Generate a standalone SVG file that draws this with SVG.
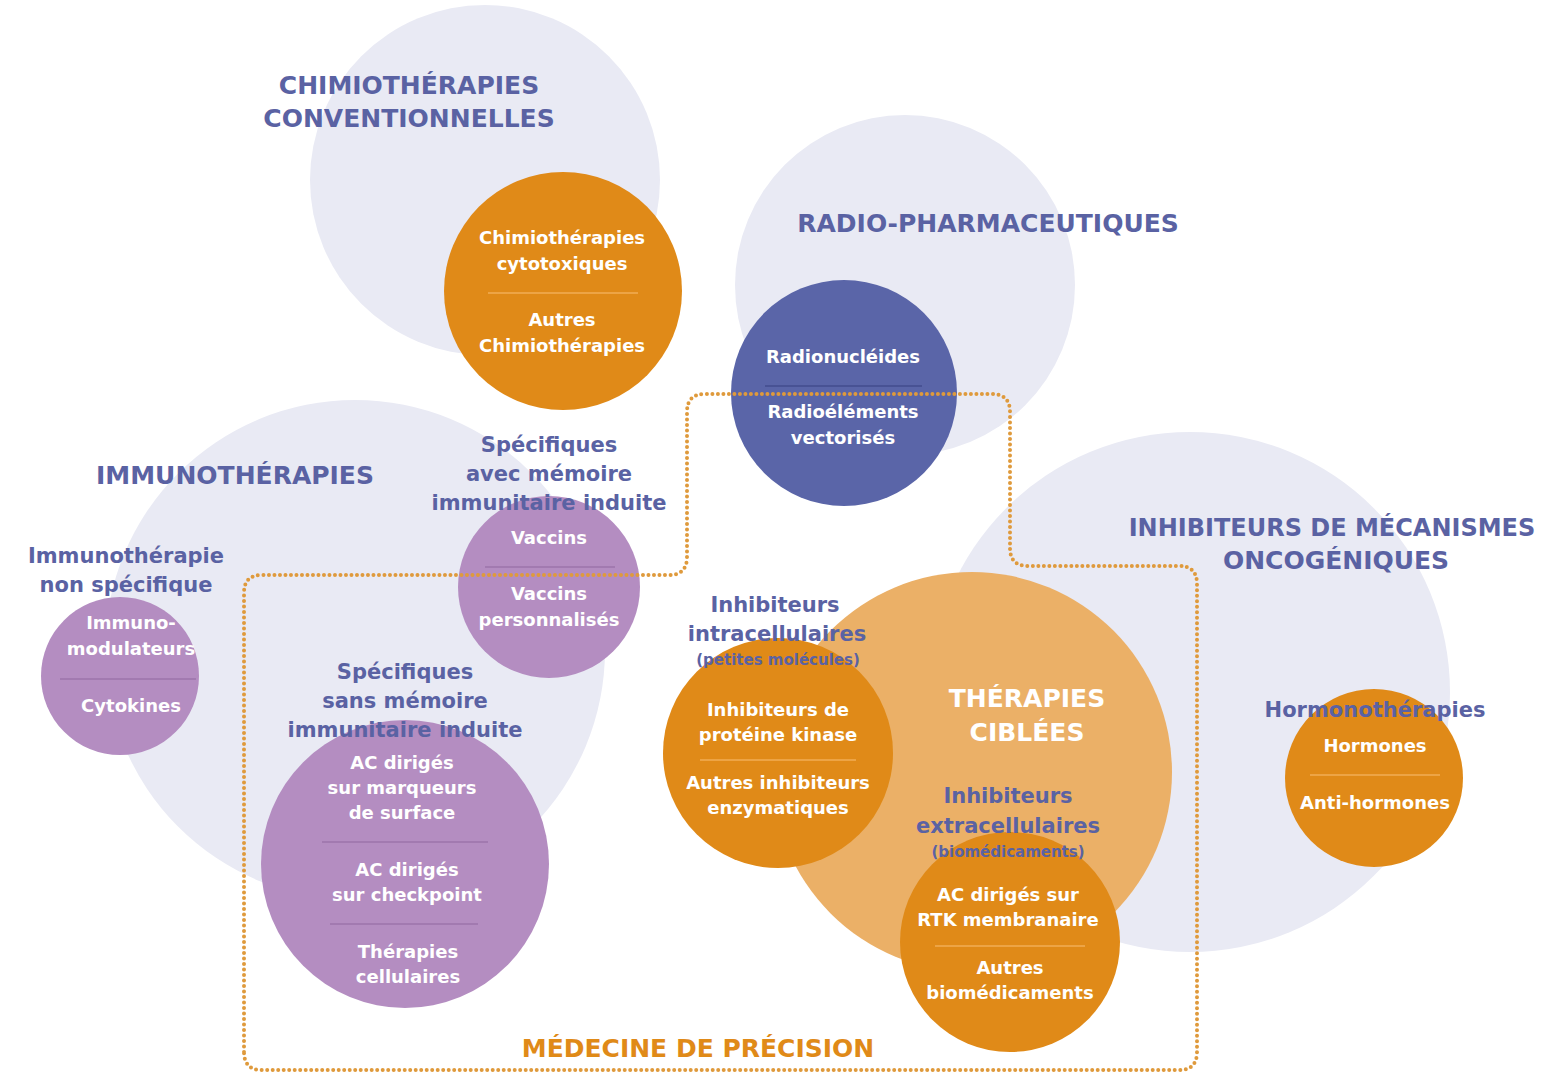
<svg xmlns="http://www.w3.org/2000/svg" width="1542" height="1074" viewBox="0 0 1542 1074">
<style>
text{font-family:"DejaVu Sans","Liberation Sans",sans-serif;font-weight:bold;text-anchor:middle}
.pale{fill:#e9eaf4}
.or{fill:#e08a18}
.lor{fill:#ebb067}
.pu{fill:#b48dc1}
.bl{fill:#5a65a8}
.ttl{font-size:25px;fill:#5a62a3}
.sub{font-size:21px;fill:#5a62a3}
.sm{font-size:15px;fill:#5a62a3}
.wh{font-size:18px;fill:#ffffff}
.wt{font-size:25px;fill:#ffffff}
.ot{font-size:25px;fill:#e08a18}
.so{stroke:#f2ad55;stroke-width:1.5}
.sp{stroke:#9c74aa;stroke-width:1.5}
.sb{stroke:#434d8e;stroke-width:1.5}
.dots{fill:none;stroke:#df9a3c;stroke-width:4;stroke-linecap:round;stroke-dasharray:0 5.5}
</style>
<rect width="1542" height="1074" fill="#ffffff"/>
<g id="backgrounds">
<circle class="pale" cx="485" cy="180" r="175"/>
<circle class="pale" cx="905" cy="285" r="170"/>
<circle class="pale" cx="355" cy="650" r="250"/>
<circle class="pale" cx="1190" cy="692" r="260"/>
</g>
<g id="chimio-title">
<text class="ttl" x="409" y="94">CHIMIOTHÉRAPIES</text>
<text class="ttl" x="409" y="127">CONVENTIONNELLES</text>
</g>
<g id="radio-title"><text class="ttl" x="988" y="232">RADIO-PHARMACEUTIQUES</text></g>
<g id="immuno-title"><text class="ttl" x="235" y="484">IMMUNOTHÉRAPIES</text></g>
<g id="inhib-title">
<text class="ttl" x="1332" y="536" style="font-size:24px">INHIBITEURS DE MÉCANISMES</text>
<text class="ttl" x="1336" y="569">ONCOGÉNIQUES</text>
</g>
<g id="chimio">
<circle class="or" cx="563" cy="291" r="119"/>
<line class="so" x1="488" y1="293" x2="638" y2="293"/>
<text class="wh" x="562" y="244">Chimiothérapies</text>
<text class="wh" x="562" y="270">cytotoxiques</text>
<text class="wh" x="562" y="326">Autres</text>
<text class="wh" x="562" y="352">Chimiothérapies</text>
</g>
<g id="radionucleides">
<circle class="bl" cx="844" cy="393" r="113"/>
<line class="sb" x1="765" y1="386" x2="922" y2="386"/>
<text class="wh" x="843" y="363">Radionucléides</text>
<text class="wh" x="843" y="418">Radioéléments</text>
<text class="wh" x="843" y="444">vectorisés</text>
</g>
<g id="therapies-ciblees">
<circle class="lor" cx="972" cy="772" r="200"/>
<text class="wt" x="1027" y="707">THÉRAPIES</text>
<text class="wt" x="1027" y="741">CIBLÉES</text>
</g>
<g id="vaccins">
<circle class="pu" cx="549" cy="587" r="91"/>
<line class="sp" x1="485" y1="567" x2="615" y2="567"/>
<text class="wh" x="549" y="544">Vaccins</text>
<text class="wh" x="549" y="600">Vaccins</text>
<text class="wh" x="549" y="626">personnalisés</text>
</g>
<g id="specifiques-avec">
<text class="sub" x="549" y="452">Spécifiques</text>
<text class="sub" x="549" y="481">avec mémoire</text>
<text class="sub" x="549" y="510">immunitaire induite</text>
</g>
<g id="immuno-non-specifique">
<circle class="pu" cx="120" cy="676" r="79"/>
<line class="sp" x1="60" y1="679" x2="196" y2="679"/>
<text class="wh" x="131" y="629">Immuno-</text>
<text class="wh" x="131" y="655">modulateurs</text>
<text class="wh" x="131" y="712">Cytokines</text>
<text class="sub" x="126" y="563">Immunothérapie</text>
<text class="sub" x="126" y="592">non spécifique</text>
</g>
<g id="specifiques-sans">
<circle class="pu" cx="405" cy="864" r="144"/>
<line class="sp" x1="322" y1="842" x2="488" y2="842"/>
<line class="sp" x1="330" y1="924" x2="478" y2="924"/>
<text class="wh" x="402" y="769">AC dirigés</text>
<text class="wh" x="402" y="794">sur marqueurs</text>
<text class="wh" x="402" y="819">de surface</text>
<text class="wh" x="407" y="876">AC dirigés</text>
<text class="wh" x="407" y="901">sur checkpoint</text>
<text class="wh" x="408" y="958">Thérapies</text>
<text class="wh" x="408" y="983">cellulaires</text>
<text class="sub" x="405" y="679">Spécifiques</text>
<text class="sub" x="405" y="708">sans mémoire</text>
<text class="sub" x="405" y="737">immunitaire induite</text>
</g>
<g id="inhib-intra">
<circle class="or" cx="778" cy="753" r="115"/>
<line class="so" x1="700" y1="760" x2="856" y2="760"/>
<text class="wh" x="778" y="716">Inhibiteurs de</text>
<text class="wh" x="778" y="741">protéine kinase</text>
<text class="wh" x="778" y="789">Autres inhibiteurs</text>
<text class="wh" x="778" y="814">enzymatiques</text>
<text class="sub" x="775" y="612">Inhibiteurs</text>
<text class="sub" x="777" y="641">intracellulaires</text>
<text class="sm" x="778" y="665">(petites molécules)</text>
</g>
<g id="inhib-extra">
<circle class="or" cx="1010" cy="942" r="110"/>
<line class="so" x1="935" y1="946" x2="1085" y2="946"/>
<text class="wh" x="1008" y="901">AC dirigés sur</text>
<text class="wh" x="1008" y="926">RTK membranaire</text>
<text class="wh" x="1010" y="974">Autres</text>
<text class="wh" x="1010" y="999">biomédicaments</text>
<text class="sub" x="1008" y="803">Inhibiteurs</text>
<text class="sub" x="1008" y="833">extracellulaires</text>
<text class="sm" x="1008" y="857">(biomédicaments)</text>
</g>
<g id="hormonotherapies">
<circle class="or" cx="1374" cy="778" r="89"/>
<line class="so" x1="1310" y1="775" x2="1440" y2="775"/>
<text class="wh" x="1375" y="752">Hormones</text>
<text class="wh" x="1375" y="809">Anti-hormones</text>
<text class="sub" x="1375" y="717">Hormonothérapies</text>
</g>
<g id="connectors">
<path class="dots" d="M244,1052 V593 Q244,575 262,575 H669 Q687,575 687,557 V412 Q687,394 705,394 H992 Q1010,394 1010,412 V548 Q1010,566 1028,566 H1179 Q1197,566 1197,584 V1052 Q1197,1070 1179,1070 H262 Q244,1070 244,1052 Z"/>
</g>
<g id="precision-label"><text class="ot" x="698" y="1057">MÉDECINE DE PRÉCISION</text></g>
</svg>
